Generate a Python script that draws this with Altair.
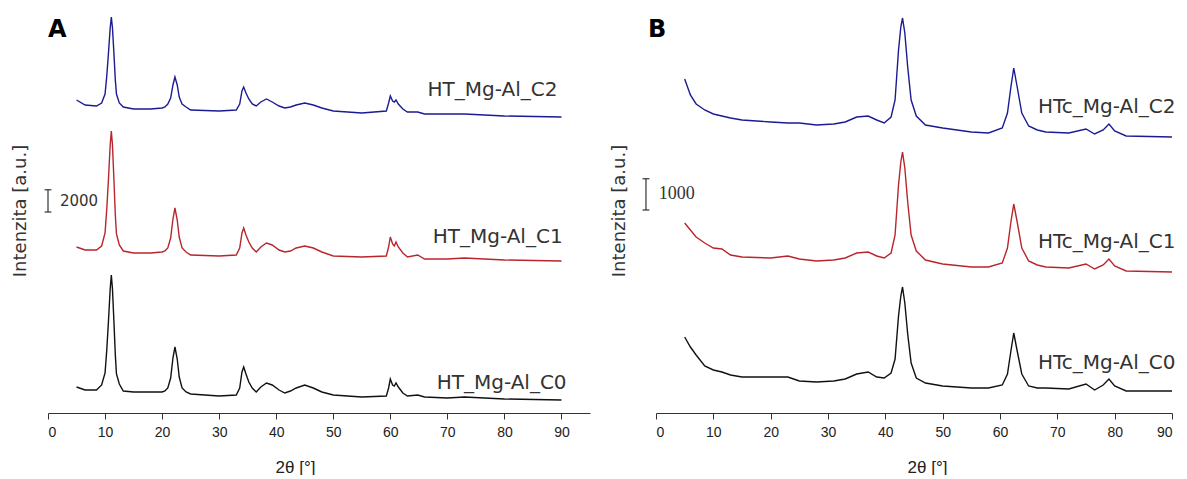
import altair as alt
import pandas as pd

# ---------------- Panel A (HT_Mg-Al) ----------------
A_x = [5, 6.5, 8.5, 9.4, 10.0, 10.3, 10.6, 10.9, 11.1, 11.3, 11.55, 11.8, 12.0, 12.5, 13.2,
       15, 18, 20, 20.5, 21.0, 21.5, 21.9, 22.25, 22.65, 23.0, 23.5, 24.2, 25, 30, 33.0,
       33.6, 34.0, 34.3, 34.7, 35.2, 35.8, 36.5, 37.3, 38.3, 39.3, 40.5, 41.5, 42.5, 43.5,
       45, 46.5, 48, 50, 55, 59.3, 59.7, 60.0, 60.4, 60.7, 61.0, 61.4, 62.2, 63, 64.8, 66,
       70, 73, 80, 90]
A_C0 = [2340, 2070, 2070, 2520, 3600, 5670, 8280, 11160, 12420, 11160, 8280, 5220, 3510,
        2610, 1980, 1890, 1890, 1890, 1980, 2250, 3150, 4950, 5940, 4860, 3240, 2250, 1890,
        1710, 1530, 1620, 2250, 3690, 4140, 3510, 2790, 2250, 1890, 2340, 2700, 2520, 2070,
        1800, 1980, 2250, 2520, 2250, 1890, 1620, 1440, 1530, 2250, 3060, 2520, 2430, 2700,
        2340, 1800, 1530, 1620, 1440, 1350, 1440, 1260, 1170]
A_C1 = [14940, 14670, 14670, 15030, 16200, 18360, 21060, 24120, 25380, 24120, 21060, 17820,
        16110, 15120, 14580, 14400, 14400, 14490, 14580, 14850, 15750, 17460, 18450, 17370,
        15840, 14850, 14490, 14220, 14130, 14220, 14850, 16200, 16650, 16020, 15390, 14850,
        14490, 14940, 15300, 15120, 14670, 14490, 14580, 14850, 15030, 14850, 14490, 14130,
        14040, 14130, 14940, 15840, 15210, 15030, 15390, 14940, 14400, 14040, 14220, 13860,
        13860, 13950, 13770, 13680]
A_C2 = [28170, 27720, 27630, 27900, 28710, 30330, 32400, 34650, 35640, 34650, 32400, 29970,
        28710, 27900, 27540, 27360, 27360, 27450, 27540, 27810, 28350, 29520, 30240, 29520,
        28440, 27810, 27540, 27270, 27180, 27270, 27810, 28980, 29340, 28800, 28260, 27810,
        27630, 27990, 28260, 27990, 27630, 27450, 27540, 27720, 27900, 27720, 27450, 27180,
        27000, 27180, 27900, 28530, 28080, 27990, 28170, 27810, 27360, 27090, 27090, 26910,
        26910, 26910, 26730, 26640]
A_names = ["HT_Mg-Al_C0", "HT_Mg-Al_C1", "HT_Mg-Al_C2"]
A_label_x = [90.9, 90.2, 89.3]
A_label_y = [2700, 15840, 29070]
A_bar = [18090, 20090]          # scale bar: 2000 counts
A_bar_text = "2000"
A_letter_y = 34470

# ---------------- Panel B (HTc_Mg-Al) ----------------
B_x = [5, 6, 7, 8.5, 10, 11.5, 13, 15, 20, 23, 25, 28, 31, 33, 35, 37, 38.5, 39.8, 41, 41.7,
       42.3, 42.7, 43.0, 43.4, 43.9, 44.5, 45.4, 47, 50, 55, 58, 60.4, 61.3, 61.9, 62.4, 63.0,
       63.8, 65, 66.5, 68, 72, 75, 76.5, 78, 79, 80, 82, 90]
B_C0 = [2432, 2112, 1856, 1504, 1376, 1312, 1216, 1152, 1152, 1152, 1024, 992, 1024, 1088,
        1248, 1312, 1152, 1120, 1280, 1728, 3104, 3744, 4032, 3520, 2528, 1600, 1120, 960,
        864, 800, 800, 896, 1248, 1984, 2560, 1984, 1248, 864, 800, 800, 768, 928, 736, 896,
        1088, 864, 704, 704]
B_C1 = [6080, 5856, 5632, 5440, 5280, 5248, 5056, 4992, 4960, 5024, 4928, 4864, 4896, 4960,
        5120, 5152, 5024, 4960, 5120, 5696, 7296, 8032, 8352, 7840, 6752, 5696, 5184, 4896,
        4768, 4672, 4672, 4800, 5280, 6112, 6688, 6112, 5280, 4864, 4736, 4672, 4640, 4768,
        4608, 4736, 4928, 4704, 4544, 4512]
B_C2 = [10688, 10176, 9888, 9696, 9568, 9504, 9440, 9376, 9312, 9280, 9280, 9216, 9248, 9312,
        9472, 9504, 9376, 9280, 9472, 10016, 11616, 12352, 12640, 12160, 11072, 10016, 9504,
        9216, 9120, 8992, 8960, 9120, 9600, 10432, 11040, 10432, 9600, 9184, 9056, 8992, 8960,
        9088, 8928, 9056, 9248, 9024, 8864, 8832]
B_names = ["HTc_Mg-Al_C0", "HTc_Mg-Al_C1", "HTc_Mg-Al_C2"]
B_label_x = [90.6, 90.6, 90.6]
B_label_y = [1600, 5472, 9792]
B_bar = [6496, 7496]            # scale bar: 1000 counts
B_bar_text = "1000"
B_letter_y = 12256

for xs, curves in ((A_x, (A_C0, A_C1, A_C2)), (B_x, (B_C0, B_C1, B_C2))):
    for c in curves:
        assert len(c) == len(xs)

COLORS = ["#111111", "#b8262c", "#1b1b92"]
SANS = "DejaVu Sans"
AXF = "Liberation Sans"


def panel(letter, letter_y, xs, series, names, lab_x, lab_y, bar, bar_text, bar_x,
          bar_text_x, bar_font, bar_font_size, letter_x, xmax, ymax, width, height,
          title_x, ytitle_pad):
    rows = []
    for name, vals in zip(names, series):
        for xv, yv in zip(xs, vals):
            rows.append({"x": xv, "y": yv, "s": name})
    df = pd.DataFrame(rows)
    xscale = alt.Scale(domain=[0, xmax], nice=False, zero=False)
    yscale = alt.Scale(domain=[0, ymax], nice=False, zero=False)
    cscale = alt.Scale(domain=names, range=COLORS)

    xaxis = alt.Axis(
        values=list(range(0, xmax + 1, 5)),
        labelExpr="datum.value % 10 === 0 ? datum.label : ''",
        tickSize={"condition": {"test": "datum.value % 10 === 0", "value": 6}, "value": 3},
        grid=False, domainColor="#333333", tickColor="#333333", domainWidth=1,
        labelFont=AXF, labelFontSize=14, labelColor="#222222", labelPadding=6,
        title="2θ [°]", titleFont=AXF, titleFontSize=17, titleFontWeight="normal",
        titleColor="#222222", titlePadding=20, titleX=title_x,
    )
    yaxis = alt.Axis(
        labels=False, ticks=False, domain=False, grid=False,
        title="Intenzita [a.u.]", titleFont=SANS, titleFontSize=18,
        titleFontWeight="normal", titleColor="#333333", titlePadding=ytitle_pad,
    )

    lines = alt.Chart(df).mark_line(strokeWidth=1.4, clip=False).encode(
        x=alt.X("x:Q", scale=xscale, axis=xaxis),
        y=alt.Y("y:Q", scale=yscale, axis=yaxis),
        color=alt.Color("s:N", scale=cscale, legend=None),
        detail="s:N",
    )

    lab_df = pd.DataFrame({"x": lab_x, "y": lab_y, "t": names})
    labels = alt.Chart(lab_df).mark_text(
        align="right", baseline="middle", font=SANS, fontSize=20, color="#333333"
    ).encode(x=alt.X("x:Q", scale=xscale), y=alt.Y("y:Q", scale=yscale), text="t:N")

    bar_df = pd.DataFrame({"x": [bar_x], "y": [bar[0]], "y2": [bar[1]]})
    bar_v = alt.Chart(bar_df).mark_rule(color="#333333", strokeWidth=1.2).encode(
        x=alt.X("x:Q", scale=xscale), y=alt.Y("y:Q", scale=yscale), y2="y2:Q")
    cap_df = pd.DataFrame({"x": [bar_x - 0.6, bar_x - 0.6], "x2": [bar_x + 0.6, bar_x + 0.6],
                           "y": [bar[0], bar[1]]})
    caps = alt.Chart(cap_df).mark_rule(color="#333333", strokeWidth=1.2).encode(
        x=alt.X("x:Q", scale=xscale), x2="x2:Q", y=alt.Y("y:Q", scale=yscale))
    bt_df = pd.DataFrame({"x": [bar_text_x], "y": [(bar[0] + bar[1]) / 2], "t": [bar_text]})
    bar_t = alt.Chart(bt_df).mark_text(
        align="left", baseline="middle", font=bar_font, fontSize=bar_font_size,
        color="#333333"
    ).encode(x=alt.X("x:Q", scale=xscale), y=alt.Y("y:Q", scale=yscale), text="t:N")

    let_df = pd.DataFrame({"x": [letter_x], "y": [letter_y], "t": [letter]})
    let_t = alt.Chart(let_df).mark_text(
        align="left", baseline="middle", font=SANS, fontSize=24, fontWeight="bold",
        color="#000000"
    ).encode(x=alt.X("x:Q", scale=xscale), y=alt.Y("y:Q", scale=yscale), text="t:N")

    return alt.layer(lines, labels, bar_v, caps, bar_t, let_t).properties(
        width=width, height=height)


pA = panel("A", A_letter_y, A_x, [A_C0, A_C1, A_C2], A_names, A_label_x, A_label_y, A_bar,
           A_bar_text, 0.0, 2.1, "DejaVu Sans", 15, 0.0, 95, 36450, 542, 405, 247, 19)
pB = panel("B", B_letter_y, B_x, [B_C0, B_C1, B_C2], B_names, B_label_x, B_label_y, B_bar,
           B_bar_text, -1.75, 0.5, "Liberation Serif", 18, -1.4, 90, 12960, 516, 405, 271, 28)

chart = alt.hconcat(pA, pB, spacing=20).properties(
    padding={"left": 11, "top": 8, "right": 5, "bottom": 0},
    background="white",
).configure_view(stroke=None)

chart.save("out.html", embed_options={"renderer": "svg", "actions": False})
